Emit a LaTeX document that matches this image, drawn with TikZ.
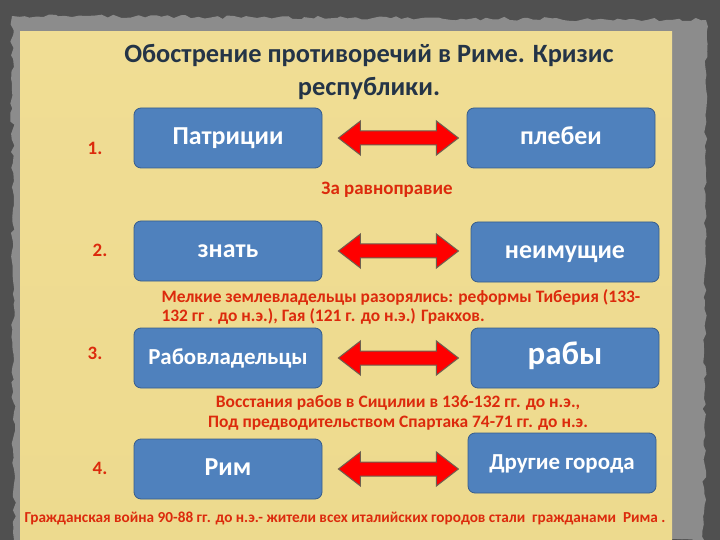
\documentclass[tikz,border=0pt]{standalone}
\usepackage{fontspec}
\setmainfont{Carlito}
\usepackage{xcolor}
\usepackage{tikz}
\usetikzlibrary{positioning, calc, decorations.pathmorphing}
\definecolor{bgDark}{HTML}{505050}
\definecolor{bgPaper}{HTML}{8C8C8C}
\definecolor{gTop}{HTML}{F0DD94}
\definecolor{gMid}{HTML}{D4B355}
\definecolor{gBot}{HTML}{EDDA8E}
\definecolor{bFill}{HTML}{4F81BD}
\definecolor{bLine}{HTML}{385D8A}
\definecolor{tInk}{HTML}{243447}
\definecolor{rInk}{HTML}{DC2A0C}
\definecolor{aLine}{HTML}{6E6050}
\tikzset{
  grp/.style={draw=bLine, thick, fill=bFill, text=white, rounded corners=7bp,
    font=\bfseries\fontsize{26}{28}\selectfont, text height=13bp, text depth=0pt,
    minimum width=188bp, minimum height=60bp},
  num/.style={text=rInk, font=\bfseries\fontsize{19}{22}\selectfont},
  note/.style={text=rInk, align=center},
  clash/.style={fill=red, draw=aLine, line width=1bp, line join=miter}
}
\begin{document}
\begin{tikzpicture}[x=1bp, y=-1bp]
  \useasboundingbox (0,0) rectangle (720,540);
  % stone background and paper
  \fill[bgDark] (0,0) rectangle (720,540);
  \fill[bgPaper, decorate, decoration={random steps, segment length=6bp, amplitude=2bp}]
    (12,16) -- (706,20) -- (704,540) -- (14,540) -- cycle;
  \shade[top color=gTop, middle color=gMid, bottom color=gBot] (20,32) rectangle (672,540);

  % title
  \node[text=tInk, align=center, font=\bfseries\fontsize{26.5}{34}\selectfont] (title) at (369,72)
    {Обострение противоречий в Риме. Кризис\\республики.};

  % the four pairs
  \node[grp] (pat) at (228,138) {Патриции};
  \node[grp] (pleb) at (561,138) {плебеи};
  \node[grp] (zn) at (228,251) {знать};
  \node[grp] (neim) at (565,252) {неимущие};
  \node[grp, font=\bfseries\fontsize{23}{25}\selectfont] (rv) at (228,358) {Рабовладельцы};
  \node[grp, font=\bfseries\fontsize{33}{35}\selectfont] (raby) at (565,358) {рабы};
  \node[grp] (rim) at (228,469) {Рим};
  \node[grp, font=\bfseries\fontsize{23}{25}\selectfont] (gor) at (562,463) {Другие города};

  \node[num] (n1) at (95,148) {1.};
  \node[num] (n2) at (100,250) {2.};
  \node[num] (n3) at (95,353) {3.};
  \node[num] (n4) at (100,468) {4.};

  % notes
  \node[note, font=\bfseries\fontsize{19}{22}\selectfont] (eq) at (387,190) {За равноправие};
  \node[note, align=left, anchor=west, font=\bfseries\fontsize{17.5}{19}\selectfont] (grak) at (158,307)
    {Мелкие землевладельцы разорялись: реформы Тиберия (133-\\132 гг . до н.э.), Гая (121 г. до н.э.) Гракхов.};
  \node[note, font=\bfseries\fontsize{17.5}{20}\selectfont] (spart) at (398,413)
    {Восстания рабов в Сицилии в 136-132 гг. до н.э.,\\Под предводительством Спартака 74-71 гг. до н.э.};
  \node[note, font=\bfseries\fontsize{15.3}{17}\selectfont] (civ) at (345,518)
    {Гражданская война 90-88 гг. до н.э.- жители всех италийских городов стали\ \ гражданами\ \ Рима .};

  % double arrows between the pairs
  \foreach \l in {pat, zn, rv, rim} {
    \coordinate (a) at ($(\l.east)+(16,0)$);
    \coordinate (b) at ($(a)+(120,0)$);
    \draw[clash] (a) -- ++(22,-17) -- ++(0,10) -- ($(b)+(-22,-7)$) -- ++(0,-10) -- (b)
      -- ++(-22,17) -- ++(0,-10) -- ($(a)+(22,7)$) -- ++(0,10) -- cycle;
  }
\end{tikzpicture}
\end{document}
